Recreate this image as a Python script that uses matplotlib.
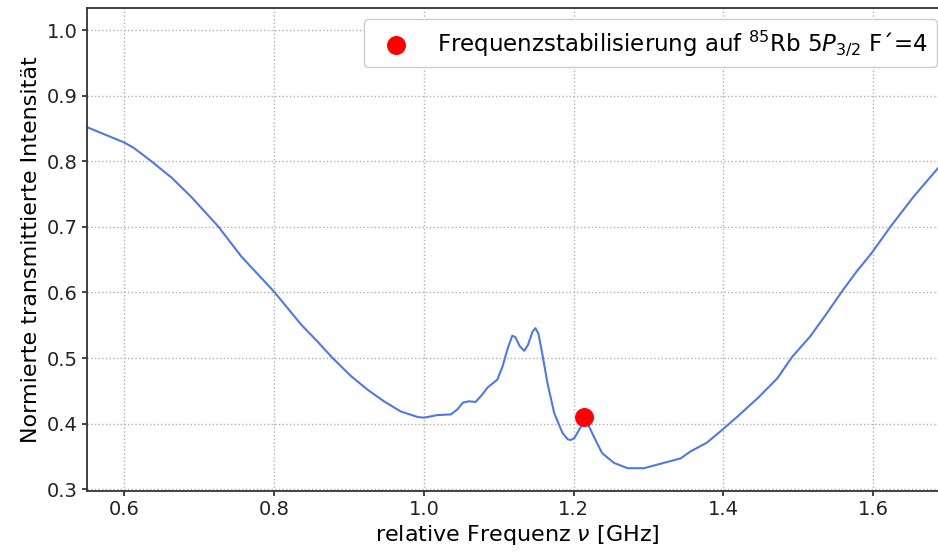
import matplotlib
matplotlib.use("Agg")
import matplotlib.pyplot as plt

# Transmission spectrum (relative frequency in GHz vs. normalised transmitted intensity)
freq_ghz = [0.550, 0.600, 0.613, 0.636, 0.663, 0.689, 0.725, 0.756, 0.800, 0.836,
            0.858, 0.878, 0.903, 0.925, 0.947, 0.969, 0.992, 1.000, 1.018, 1.036,
            1.045, 1.052, 1.060, 1.069, 1.077, 1.085, 1.098, 1.105, 1.112, 1.118,
            1.122, 1.128, 1.134, 1.139, 1.145, 1.149, 1.153, 1.158, 1.165, 1.174,
            1.185, 1.192, 1.196, 1.201, 1.207, 1.212, 1.216, 1.220, 1.227, 1.238,
            1.254, 1.272, 1.294, 1.320, 1.343, 1.356, 1.378, 1.400, 1.419, 1.446,
            1.472, 1.492, 1.516, 1.538, 1.558, 1.578, 1.598, 1.623, 1.654, 1.687,
            1.700]
intensity = [0.852, 0.8285, 0.820, 0.800, 0.775, 0.746, 0.701, 0.655, 0.601, 0.551,
             0.525, 0.500, 0.472, 0.4515, 0.4337, 0.4185, 0.410, 0.409, 0.413, 0.414,
             0.422, 0.432, 0.434, 0.433, 0.443, 0.455, 0.467, 0.487, 0.515, 0.534,
             0.532, 0.518, 0.511, 0.520, 0.540, 0.5455, 0.537, 0.507, 0.462, 0.416,
             0.386, 0.376, 0.375, 0.378, 0.390, 0.400, 0.403, 0.397, 0.380, 0.355,
             0.340, 0.332, 0.332, 0.340, 0.347, 0.3575, 0.371, 0.392, 0.411, 0.439,
             0.469, 0.502, 0.533, 0.568, 0.601, 0.632, 0.660, 0.700, 0.746, 0.790,
             0.805]

# Lock point for frequency stabilisation
lock_freq = [1.214]
lock_intensity = [0.410]

xticks = [0.6, 0.8, 1.0, 1.2, 1.4, 1.6]
yticks = [0.3, 0.4, 0.5, 0.6, 0.7, 0.8, 0.9, 1.0]

fig = plt.figure(figsize=(9.38, 5.56), dpi=100)
ax = fig.add_axes([87 / 938, 1 - 490.5 / 556, (948 - 87) / 938, (490.5 - 7.8) / 556])

ax.plot(freq_ghz, intensity, color="#5079e0", lw=1.5, zorder=2,
        solid_joinstyle="round")
ax.scatter(lock_freq, lock_intensity, s=160, color="red", zorder=3,
           label="Frequenzstabilisierung auf $^{85}$Rb 5$P_{3/2}$ F\u00b4=4")

ax.set_xlim(0.55, 1.70)
ax.set_ylim(0.298, 1.034)
ax.set_xticks(xticks)
ax.set_yticks(yticks)
ax.tick_params(labelsize=14, colors="#222222", width=1.2)
ax.grid(True, linestyle=":", color="#b0b0b0", lw=1.0)
for sp in ax.spines.values():
    sp.set_color("#333333")
    sp.set_linewidth(1.3)

ax.set_xlabel("relative Frequenz $\\nu$ [GHz]", fontsize=16, labelpad=3)
ax.set_ylabel("Normierte transmittierte Intensität", fontsize=16)

ax.legend(loc="upper right", fontsize=16.5, markerscale=1.0, framealpha=1.0,
          edgecolor="#cccccc")

fig.savefig("out.png", dpi=100)
